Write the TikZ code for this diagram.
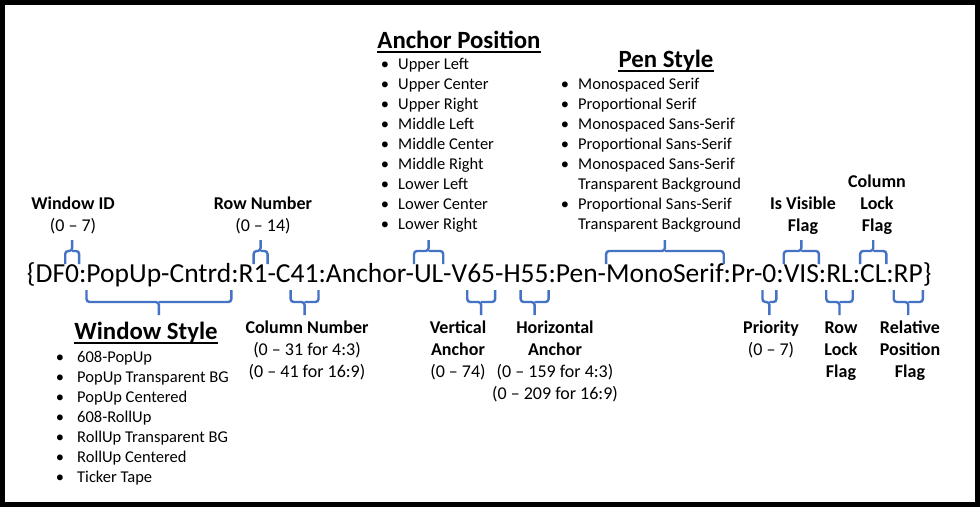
\documentclass[tikz,border=0pt]{standalone}
\usepackage{fontspec}
\setmainfont{Carlito}
\usetikzlibrary{calc}
\definecolor{bblue}{HTML}{4472C4}
\tikzset{
 seg/.style={inner sep=0pt, outer sep=0pt, font=\fontsize{27.5}{33}\selectfont, anchor=base west},
 lab/.style={inner sep=0pt, font=\fontsize{18}{22}\selectfont\bfseries, anchor=base},
 rng/.style={inner sep=0pt, font=\fontsize{18}{22}\selectfont, anchor=base},
 ttl/.style={inner sep=0pt, font=\fontsize{24.8}{29}\selectfont\bfseries, anchor=base},
 item/.style={inner sep=0pt, font=\fontsize{16.5}{20}\selectfont, anchor=base west},
 bul/.style={inner sep=0pt, font=\fontsize{16.5}{20}\selectfont, anchor=base},
 brace/.style={draw=bblue, line width=2.4pt, rounded corners=3pt},
 uline/.style={line width=2pt},
}
\newcommand\upbrace[1]{%
 \draw[brace] (#1.west |- tE) -- (#1.west |- tM) -- (#1.center |- tM) -- (#1.center |- tS);
 \draw[brace] (#1.east |- tE) -- (#1.east |- tM) -- (#1.center |- tM);}
\newcommand\downbrace[1]{%
 \draw[brace] (#1.west |- bE) -- (#1.west |- bM) -- (#1.center |- bM) -- (#1.center |- bS);
 \draw[brace] (#1.east |- bE) -- (#1.east |- bM) -- (#1.center |- bM);}
\begin{document}
\begin{tikzpicture}[x=1pt,y=-1pt]
\useasboundingbox (0,0) rectangle (980,507);
\fill[black] (0,0) rectangle (980,507);
\fill[white] (5,5) rectangle (975,502);
\coordinate (tE) at (0,264);
\coordinate (tM) at (0,251);
\coordinate (tS) at (0,240);
\coordinate (bE) at (0,290);
\coordinate (bM) at (0,302);
\coordinate (bS) at (0,315);
% main string
\node[seg] (s1) at (27,282) {\{DF};
\node[seg] (s2) at (s1.base east) {0};
\node[seg] (s3) at (s2.base east) {:};
\node[seg] (s4) at (s3.base east) {PopUp-Cntrd};
\node[seg] (s5) at (s4.base east) {:R};
\node[seg] (s6) at (s5.base east) {1};
\node[seg] (s7) at (s6.base east) {-C};
\node[seg] (s8) at (s7.base east) {41};
\node[seg] (s9) at (s8.base east) {:Anchor-};
\node[seg] (s10) at (s9.base east) {UL};
\node[seg] (s11) at (s10.base east) {-V};
\node[seg] (s12) at (s11.base east) {65};
\node[seg] (s13) at (s12.base east) {-H};
\node[seg] (s14) at (s13.base east) {55};
\node[seg] (s15) at (s14.base east) {:Pen-};
\node[seg] (s16) at (s15.base east) {MonoSerif};
\node[seg] (s17) at (s16.base east) {:Pr-};
\node[seg] (s18) at (s17.base east) {0};
\node[seg] (s19) at (s18.base east) {:};
\node[seg] (s20) at (s19.base east) {VIS};
\node[seg] (s21) at (s20.base east) {:};
\node[seg] (s22) at (s21.base east) {RL};
\node[seg] (s23) at (s22.base east) {:};
\node[seg] (s24) at (s23.base east) {CL};
\node[seg] (s25) at (s24.base east) {:};
\node[seg] (s26) at (s25.base east) {RP};
\node[seg] (s27) at (s26.base east) {\}};
% braces
\upbrace{s2}\upbrace{s6}\upbrace{s10}\upbrace{s16}\upbrace{s20}\upbrace{s24}
\downbrace{s4}\downbrace{s8}\downbrace{s12}\downbrace{s14}\downbrace{s18}\downbrace{s22}\downbrace{s26}
% top labels
\node[lab] (wid1) at (73,209.5) {Window ID};
\node[rng] (wid2) at (73,231.5) {(0 – 7)};
\node[lab] (row1) at (263,209.5) {Row Number};
\node[rng] (row2) at (263,231.5) {(0 – 14)};
\node[lab] (vis1) at (803,209.5) {Is Visible};
\node[lab] (vis2) at (803,231.5) {Flag};
\node[lab] (cl1) at (877,187.5) {Column};
\node[lab] (cl2) at (877,209.5) {Lock};
\node[lab] (cl3) at (877,231.5) {Flag};
% bottom labels
\node[lab] (cn1) at (307,333) {Column Number};
\node[rng] (cn2) at (307,355) {(0 – 31 for 4:3)};
\node[rng] (cn3) at (307,377) {(0 – 41 for 16:9)};
\node[lab] (va1) at (458,333) {Vertical};
\node[lab] (va2) at (458,355) {Anchor};
\node[rng] (va3) at (458,377) {(0 – 74)};
\node[lab] (ha1) at (555,333) {Horizontal};
\node[lab] (ha2) at (555,355) {Anchor};
\node[rng] (ha3) at (555,377) {(0 – 159 for 4:3)};
\node[rng] (ha4) at (555,399) {(0 – 209 for 16:9)};
\node[lab] (pr1) at (771,333) {Priority};
\node[rng] (pr2) at (771,355) {(0 – 7)};
\node[lab] (rl1) at (841,333) {Row};
\node[lab] (rl2) at (841,355) {Lock};
\node[lab] (rl3) at (841,377) {Flag};
\node[lab] (rp1) at (910,333) {Relative};
\node[lab] (rp2) at (910,355) {Position};
\node[lab] (rp3) at (910,377) {Flag};
% titles
\node[ttl] (tap) at (459,48) {Anchor Position};
\draw[uline] ([yshift=-3.5pt]tap.base west) -- ([yshift=-3.5pt]tap.base east);
\node[ttl] (tps) at (666,67) {Pen Style};
\draw[uline] ([yshift=-3.5pt]tps.base west) -- ([yshift=-3.5pt]tps.base east);
\node[ttl] (tws) at (146,339) {Window Style};
\draw[uline] ([yshift=-3.5pt]tws.base west) -- ([yshift=-3.5pt]tws.base east);
% anchor list
\foreach \t [count=\i from 0] in {Upper Left,Upper Center,Upper Right,Middle Left,Middle Center,Middle Right,Lower Left,Lower Center,Lower Right}{
  \node[bul] (apb\i) at (385,69+20*\i) {•};
  \node[item] (api\i) at (398,69+20*\i) {\t};
}
% pen list
\foreach \t [count=\i from 0] in {Monospaced Serif,Proportional Serif,Monospaced Sans-Serif,Proportional Sans-Serif,Monospaced Sans-Serif,Transparent Background,Proportional Sans-Serif,Transparent Background}{
  \node[item] (psi\i) at (578,89+20*\i) {\t};
}
\foreach \i in {0,1,2,3,4,6}{
  \node[bul] (psb\i) at (565,89+20*\i) {•};
}
% window style list
\foreach \t [count=\i from 0] in {608-PopUp,PopUp Transparent BG,PopUp Centered,608-RollUp,RollUp Transparent BG,RollUp Centered,Ticker Tape}{
  \node[bul] (wsb\i) at (60,362+20*\i) {•};
  \node[item] (wsi\i) at (77,362+20*\i) {\t};
}
\end{tikzpicture}
\end{document}
